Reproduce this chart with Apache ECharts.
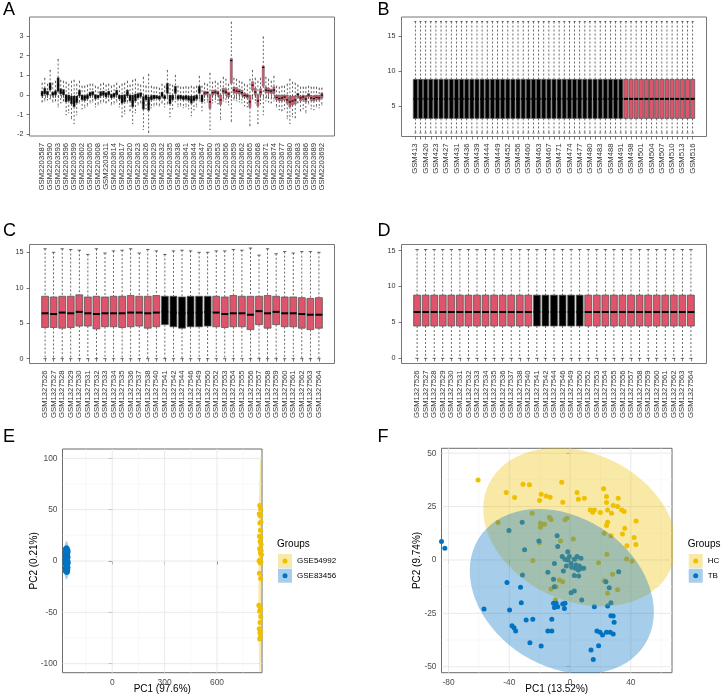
<!DOCTYPE html>
<html>
<head>
<meta charset="utf-8">
<title>Normalisation boxplots and PCA</title>
<script src="https://cdn.jsdelivr.net/npm/echarts@6/dist/echarts.min.js"></script>
<style>
  html, body { margin: 0; padding: 0; background: #fff; }
  #main { width: 722px; height: 700px; }
</style>
</head>
<body>
<div id="main"></div>
<script>
(function () {
    'use strict';

    // ---------- panel A : GSE83456 (GSM2203xxx) ----------
    var aSampleIds = [587,588,589,590,591,592,593,594,595,596,597,598,599,600,601,602,603,604,605,606,
        607,608,609,610,611,612,613,614,615,616,617,618,619,620,621,622,623,624,625,626,
        627,628,629,630,631,632,633,634,635,636,637,638,639,640,641,642,643,644,645,646,
        647,648,649,650,651,652,653,654,655,656,657,658,659,660,661,662,663,664,665,666,
        667,668,669,670,671,672,673,674,675,676,677,678,679,680,681,682,683,684,685,686,
        687,688,689,690,691,692];
    var aGroupRuns = [[1, 61], [2, 45]];
    var aLow = [-0.35,-0.30,-0.25,-0.20,-0.35,-0.30,-0.60,-0.40,-0.30,-1.00,
        -0.90,-1.20,-1.45,-1.00,-0.40,-0.70,-0.65,-0.55,-0.40,-0.35,
        -0.60,-0.50,-0.40,-0.35,-0.40,-0.30,-0.50,-0.45,-0.35,-0.60,
        -1.10,-0.95,-0.40,-0.80,-1.45,-0.90,-0.50,-0.40,-1.75,-0.70,
        -1.90,-0.65,-0.55,-0.50,-0.55,-0.40,-0.60,-0.45,-1.10,-0.70,
        -0.35,-0.60,-0.55,-0.65,-0.60,-0.70,-1.05,-0.75,-0.60,-0.30,
        -0.80,
        -0.40,-0.35,-1.75,-0.40,-0.35,-0.45,-1.25,-0.30,-0.35,-0.50,
        -1.35,-0.25,-0.30,-0.35,-0.40,-0.55,-0.60,-1.55,-0.20,-0.40,
        -1.45,-0.45,-1.00,-0.30,-0.35,-0.40,-0.30,-0.60,-0.75,-0.80,
        -0.70,-1.20,-1.45,-1.10,-1.15,-0.40,-0.80,-0.70,-0.90,-0.45,
        -0.70,-0.75,-0.60,-0.65,-0.50];
    var aQ1 = [-0.05,0.05,0.00,0.25,-0.02,0.00,0.18,0.05,0.00,-0.35,
        -0.30,-0.45,-0.60,-0.40,-0.05,-0.25,-0.28,-0.20,-0.05,0.00,
        -0.20,-0.15,-0.05,-0.02,-0.10,0.00,-0.15,-0.10,0.00,-0.20,
        -0.42,-0.35,-0.05,-0.30,-0.60,-0.30,-0.15,-0.08,-0.72,-0.25,
        -0.78,-0.25,-0.20,-0.18,-0.22,-0.08,-0.20,0.08,-0.45,-0.25,
        0.08,-0.22,-0.20,-0.25,-0.22,-0.28,-0.42,-0.30,-0.22,0.08,
        -0.35,
        0.00,0.02,-0.68,0.00,0.05,0.00,-0.48,0.08,0.05,-0.10,
        0.60,0.10,0.08,0.05,0.02,-0.10,-0.15,-0.63,0.25,0.00,
        -0.56,0.00,0.45,0.12,0.10,0.08,0.08,-0.25,-0.30,-0.30,
        -0.25,-0.42,-0.60,-0.50,-0.45,-0.10,-0.30,-0.25,-0.35,-0.10,
        -0.28,-0.30,-0.25,-0.25,-0.15];
    var aMed = [0.08,0.15,0.10,0.40,0.06,0.10,0.50,0.15,0.12,-0.10,
        -0.15,-0.20,-0.35,-0.25,0.10,-0.15,-0.12,-0.10,0.05,0.10,
        -0.05,-0.08,0.05,0.08,0.05,0.10,-0.05,0.00,0.10,-0.10,
        -0.25,-0.15,0.10,-0.15,-0.35,-0.10,-0.05,0.05,-0.40,-0.10,
        -0.45,-0.15,-0.10,-0.12,-0.15,0.02,-0.12,0.35,-0.25,-0.12,
        0.25,-0.12,-0.10,-0.15,-0.12,-0.18,-0.25,-0.20,-0.12,0.25,
        -0.20,
        0.10,0.12,-0.35,0.12,0.15,0.10,-0.25,0.20,0.15,0.05,
        1.75,0.25,0.20,0.18,0.12,-0.02,-0.05,-0.35,0.50,0.15,
        -0.30,0.15,1.40,0.25,0.22,0.20,0.25,-0.12,-0.18,-0.15,
        -0.10,-0.25,-0.35,-0.30,-0.25,0.02,-0.15,-0.10,-0.20,0.00,
        -0.15,-0.18,-0.12,-0.15,0.00];
    var aQ3 = [0.20,0.35,0.20,0.62,0.15,0.22,0.88,0.32,0.28,0.02,
        0.00,-0.05,-0.05,-0.05,0.25,0.00,-0.02,0.02,0.15,0.18,
        0.02,0.00,0.18,0.20,0.12,0.20,0.05,0.10,0.25,0.00,
        0.00,0.02,0.25,0.00,0.00,0.05,0.08,0.12,-0.08,0.00,
        -0.10,-0.02,0.00,-0.02,-0.05,0.15,-0.02,0.60,0.00,0.00,
        0.45,-0.02,0.00,-0.05,-0.02,-0.05,-0.05,-0.05,0.00,0.45,
        0.00,
        0.20,0.18,0.00,0.25,0.25,0.20,0.00,0.35,0.30,0.15,
        1.86,0.40,0.38,0.30,0.25,0.10,0.05,0.00,0.68,0.34,
        0.00,0.32,1.47,0.40,0.35,0.30,0.42,0.00,0.00,-0.02,
        0.00,0.00,-0.10,-0.05,-0.05,0.10,-0.05,0.00,-0.05,0.08,
        -0.02,-0.05,0.00,-0.02,0.10];
    var aHigh = [0.60,0.85,0.55,1.25,0.60,0.70,1.80,0.75,0.70,0.65,
        0.55,0.70,0.75,0.55,0.70,0.45,0.45,0.50,0.55,0.55,
        0.45,0.40,0.55,0.60,0.50,0.55,0.45,0.50,0.60,0.45,
        0.55,0.60,0.70,0.50,0.75,0.80,0.55,0.50,0.90,0.45,
        1.05,0.45,0.40,0.40,0.35,0.55,0.45,1.25,0.55,0.50,
        1.00,0.45,0.40,0.40,0.42,0.40,0.45,0.40,0.45,0.95,
        0.45,
        0.60,0.55,1.10,0.65,0.70,0.60,0.70,0.90,0.80,0.55,
        3.70,0.85,0.80,0.70,0.65,0.55,0.50,0.80,1.25,0.85,
        0.70,0.85,2.95,0.90,0.80,0.70,0.95,0.45,0.40,0.45,
        0.45,0.55,0.80,0.65,0.60,0.50,0.40,0.40,0.40,0.45,
        0.40,0.40,0.40,0.35,0.35];

    // ---------- panel B : GSM709xxx ----------
    var bSampleIds = [413,416,420,421,423,425,427,429,431,434,436,437,439,442,444,446,449,450,452,454,
        456,458,460,461,463,465,467,469,471,472,474,475,477,478,480,481,483,485,488,489,
        491,495,498,499,501,502,504,505,507,508,510,511,513,514,516];
    var bGroupRuns = [[1, 41], [2, 14]];
    var bLow = [1.1,1.1,1.1,1.1,1.1,1.1,1.1,1.1,1.1,1.1,1.1,1.1,1.1,1.1,1.1,1.1,1.1,1.1,1.1,1.1,
        1.1,1.1,1.1,1.1,1.1,1.1,1.1,1.1,1.1,1.1,1.1,1.1,1.1,1.1,1.1,1.1,1.1,1.1,1.1,1.1,
        1.1,1.1,1.1,1.1,1.1,1.1,1.1,1.1,1.1,1.1,1.1,1.1,1.1,1.1,1.1];
    var bQ1 = [3.2,3.2,3.2,3.2,3.2,3.2,3.2,3.2,3.2,3.2,3.2,3.2,3.2,3.2,3.2,3.2,3.2,3.2,3.2,3.2,
        3.2,3.2,3.2,3.2,3.2,3.2,3.2,3.2,3.2,3.2,3.2,3.2,3.2,3.2,3.2,3.2,3.2,3.2,3.2,3.2,
        3.2,3.2,3.2,3.2,3.2,3.2,3.2,3.2,3.2,3.2,3.2,3.2,3.2,3.2,3.2];
    var bMed = [6,6,6,6,6,6,6,6,6,6,6,6,6,6,6,6,6,6,6,6,
        6,6,6,6,6,6,6,6,6,6,6,6,6,6,6,6,6,6,6,6,
        6,6,6,6,6,6,6,6,6,6,6,6,6,6,6];
    var bQ3 = [8.8,8.8,8.8,8.8,8.8,8.8,8.8,8.8,8.8,8.8,8.8,8.8,8.8,8.8,8.8,8.8,8.8,8.8,8.8,8.8,
        8.8,8.8,8.8,8.8,8.8,8.8,8.8,8.8,8.8,8.8,8.8,8.8,8.8,8.8,8.8,8.8,8.8,8.8,8.8,8.8,
        8.8,8.8,8.8,8.8,8.8,8.8,8.8,8.8,8.8,8.8,8.8,8.8,8.8,8.8,8.8];
    var bHigh = [17.1,17.1,17.1,17.1,17.1,17.1,17.1,17.1,17.1,17.1,17.1,17.1,17.1,17.1,17.1,17.1,17.1,17.1,17.1,17.1,
        17.1,17.1,17.1,17.1,17.1,17.1,17.1,17.1,17.1,17.1,17.1,17.1,17.1,17.1,17.1,17.1,17.1,17.1,17.1,17.1,
        17.1,17.1,17.1,17.1,17.1,17.1,17.1,17.1,17.1,17.1,17.1,17.1,17.1,17.1,17.1];

    // ---------- panels C / D : GSE54992 (GSM1327xxx), before and after ----------
    var cdSampleIds = [526,527,528,529,530,531,532,533,534,535,536,537,538,540,541,542,544,
        546,549,550,552,553,554,555,556,557,558,559,560,561,562,563,564];
    var cdGroupRuns = [[2, 14], [1, 6], [2, 13]];
    var cLow = [0,0,0,0,0,0,0,0,0,0,0,0,0,0,0,0,0,0,0,0,0,0,0,0,0,0,0,0,0,0,0,0,0];
    var cQ1 = [4.4,4.4,4.3,4.4,4.6,4.6,4.2,4.5,4.5,4.4,4.5,4.6,4.3,4.5,
        4.8,4.5,4.3,4.5,4.5,4.6,
        4.5,4.4,4.5,4.5,4.1,4.8,4.3,4.8,4.5,4.5,4.3,4.1,4.3];
    var cMed = [6.4,6.3,6.5,6.4,6.6,6.4,6.3,6.4,6.4,6.4,6.5,6.5,6.4,6.5,
        6.6,6.5,6.4,6.5,6.5,6.6,
        6.5,6.3,6.4,6.4,6.2,6.7,6.4,6.6,6.4,6.4,6.3,6.2,6.2];
    var cQ3 = [8.8,8.7,8.8,8.8,9.0,8.7,8.8,8.7,8.8,8.8,8.9,8.8,8.8,8.9,
        8.8,8.8,8.7,8.8,8.8,8.8,
        8.8,8.7,8.9,8.8,8.8,8.8,8.9,8.8,8.7,8.7,8.6,8.5,8.6];
    var cHigh = [15.5,15.0,15.5,15.4,15.3,14.7,15.5,14.9,15.2,15.3,15.5,14.9,15.4,15.2,
        14.7,15.2,15.3,15.2,15.0,15.0,
        15.2,15.2,15.4,15.3,15.6,14.6,15.5,14.8,15.1,14.9,15.1,15.1,15.0];
    var dLow = [0,0,0,0,0,0,0,0,0,0,0,0,0,0,0,0,0,0,0,0,0,0,0,0,0,0,0,0,0,0,0,0,0];
    var dQ1 = [4.5,4.5,4.5,4.5,4.5,4.5,4.5,4.5,4.5,4.5,4.5,4.5,4.5,4.5,4.5,4.5,4.5,
        4.5,4.5,4.5,4.5,4.5,4.5,4.5,4.5,4.5,4.5,4.5,4.5,4.5,4.5,4.5,4.5];
    var dMed = [6.45,6.45,6.45,6.45,6.45,6.45,6.45,6.45,6.45,6.45,6.45,6.45,6.45,6.45,6.45,6.45,6.45,
        6.45,6.45,6.45,6.45,6.45,6.45,6.45,6.45,6.45,6.45,6.45,6.45,6.45,6.45,6.45,6.45];
    var dQ3 = [8.8,8.8,8.8,8.8,8.8,8.8,8.8,8.8,8.8,8.8,8.8,8.8,8.8,8.8,8.8,8.8,8.8,
        8.8,8.8,8.8,8.8,8.8,8.8,8.8,8.8,8.8,8.8,8.8,8.8,8.8,8.8,8.8,8.8];
    var dHigh = [15.15,15.15,15.15,15.15,15.15,15.15,15.15,15.15,15.15,15.15,15.15,15.15,15.15,15.15,15.15,15.15,15.15,
        15.15,15.15,15.15,15.15,15.15,15.15,15.15,15.15,15.15,15.15,15.15,15.15,15.15,15.15,15.15,15.15];

    // ---------- panel E : PCA by data set ----------
    var eGse54992 = [[845,54],[850,51],[842,46],[848,44],[852,38],[846,37],[849,30],[843,24],[851,23],
        [847,19],[853,16],[844,12],[849,8],[855,6],[846,1],[852,-1],[848,-2],[843,-12],[850,-17],
        [840,-43],[846,-44],[849,-47],[844,-49],[851,-54],[847,-60],[842,-66],[850,-68],[846,-70],
        [848,-74],[845,-76],[853,10],[841,0],[849,44]];
    var eGse83456 = [[-268,12],[-262,13],[-257,12],[-271,9],[-265,9],[-259,10],[-254,8],[-270,5],
        [-264,4],[-258,6],[-253,4],[-272,1],[-266,0],[-260,2],[-254,0],[-269,-3],[-263,-2],[-257,-4],
        [-252,-2],[-271,-7],[-265,-6],[-259,-8],[-254,-6],[-268,-10],[-262,-11],[-256,-10],[-267,7],
        [-261,-1],[-255,-8],[-270,-1],[-263,11],[-258,2],[-266,-9],[-253,10],[-260,7],[-264,-4],
        [-269,3],[-256,5],[-262,-6],[-258,-11]];

    // ---------- panel F : PCA by disease group ----------
    var fHC = [[-60.5,37.5],[-42,31.6],[-36.5,29.2],[-31,35.5],[-26.7,35.2],[-20.1,27.8],[-19,30.8],
        [-15.7,30],[-13.1,29.4],[-5.5,36.4],[-4.8,27],[4.6,31.6],[5.5,28.4],[9.4,28.9],[13.3,23.4],
        [14.9,22.3],[16,23.4],[19.9,22.2],[22.1,33.3],[24,29.7],[24,26.9],[24.7,23.4],[24.7,17.7],
        [24,16.1],[27.3,21.9],[28.4,25.5],[31.7,28.9],[31.3,25],[34,23.4],[35.6,22.7],[36,14.8],
        [34.5,12.2],[43.5,18.3],[42.2,10.5],[43.3,7.3],[37.4,6.7],[27,11.3],[22.5,12.5],[37.2,0.5],
        [40.7,-0.5],[24.3,2.7],[18.8,-1.3],[28,-6.7],[22.5,-9.7],[31.3,-14],[24.7,-15.6],[-47.4,17.5],
        [-24.9,21.9],[-16.8,16.7],[-19.5,17.2],[-19.5,15.3],[-13.6,20],[-12.5,19],[-3.3,18.8],
        [-2,19.5],[2.2,9.8],[-20.1,8.1],[-24.5,-0.3],[-12.5,-13.6],[-9.2,-12.5],[-9.6,-18.8],
        [-4.8,-10.2],[-7,-9.4],[3.9,0.5],[-6.3,8.9]];
    var fTB = [[-84.6,8.6],[-82.4,5.5],[-56.6,-23],[-41.5,-10.5],[-39.8,-23.4],[-40.2,13.8],
        [-38.2,-30.8],[-36.9,-31.7],[-35.8,-33.3],[-32.6,-12.8],[-32.1,-20],[-31.5,17.7],[-31.3,-7],
        [-29.9,4.8],[-28.9,-28.1],[-26.4,-38.8],[-24.5,-27.8],[-20.5,8.9],[-19,-40.3],[-14.6,-33.3],
        [-12,-33.3],[-12,-27.8],[-10.9,-20.3],[-10.3,-22.3],[-10.3,-1.6],[-10.9,-9],[-10.3,-12.5],
        [-8.5,11.3],[-8.1,6.3],[-14.6,-5.8],[-9.2,-20.3],[-4.8,-20.6],[-3.7,-22.7],[-3.3,-20.3],
        [-4.4,-5.2],[-5.2,1.6],[-3.3,0.3],[-1.5,0],[-1.5,3.9],[-0.4,1.6],[0.7,-1.6],[1.1,-3.4],
        [2.8,0.3],[3.5,-3.9],[3.9,-2.3],[4.6,1.6],[5.5,-4.7],[6.1,-2.8],[5.7,-7.5],[7.2,0.8],
        [7.7,-3.9],[9,-3.9],[2.8,-7.3],[0.7,-15.3],[2.8,-14.5],[7.7,-18.8],[-2.4,-2.8],[16,-21.9],
        [24.7,-21.6],[26.9,-20],[23.6,-10.2],[25.8,-13],[32,-5.5],[26.9,-26.1],[28.4,-26.3],
        [29,-29.2],[17.7,-33.3],[19.7,-33.9],[21.4,-35.2],[24,-33.9],[26.4,-33.9],[28.4,-34.7],
        [18.8,-40.2],[13.8,-42.2],[15.3,-46.6],[-8.1,-21.9]];

    // ---------- tick labels ----------
    var aTicks = [-2, -1, 0, 1, 2, 3];
    var bTicks = [5, 10, 15];
    var cdTicks = [0, 5, 10, 15];
    var eXMajor = [0, 300, 600], eXMinor = [-150, 150, 450, 750];
    var eYMajor = [-100, -50, 0, 50, 100], eYMinor = [-75, -25, 25, 75];
    var fXMajor = [-80, -40, 0, 40], fXMinor = [-60, -20, 20, 60];
    var fYMajor = [-50, -25, 0, 25, 50], fYMinor = [-37.5, -12.5, 12.5, 37.5];

    var RED = '#DF536B';
    var BLACK = '#000000';
    var YELLOW = '#EFC000';
    var BLUE = '#0073C2';
    var FONT = '"Liberation Sans", Arial, Helvetica, sans-serif';

    var grids = [], xAxes = [], yAxes = [], series = [];

    function expandRuns(runs) {
        var out = [];
        runs.forEach(function (r) {
            for (var k = 0; k < r[1]; k++) {
                out.push(r[0]);
            }
        });
        return out;
    }

    function boxRows(low, q1, med, q3, high, groups) {
        return low.map(function (v, i) {
            return [i, v, q1[i], med[i], q3[i], high[i], groups[i]];
        });
    }

    // base-R like boxplot: dashed whiskers, staples, filled box, thick median
    function renderBox(params, api) {
        var i = api.value(0);
        var pLo = api.coord([i, api.value(1)]);
        var pQ1 = api.coord([i, api.value(2)]);
        var pMd = api.coord([i, api.value(3)]);
        var pQ3 = api.coord([i, api.value(4)]);
        var pHi = api.coord([i, api.value(5)]);
        var band = api.size([1, 0])[0];
        var bw = band * 0.8, sw = bw * 0.5, x = pMd[0];
        var fill = api.value(6) === 2 ? RED : BLACK;
        var edge = Math.min(0.8, band * 0.18);
        var medW = Math.min(2, band * 0.45);
        return {
            type: 'group',
            children: [
                {type: 'line', shape: {x1: x, y1: pHi[1], x2: x, y2: pQ3[1]},
                    style: {stroke: '#444', lineWidth: 0.8, lineDash: [2, 2]}},
                {type: 'line', shape: {x1: x, y1: pQ1[1], x2: x, y2: pLo[1]},
                    style: {stroke: '#444', lineWidth: 0.8, lineDash: [2, 2]}},
                {type: 'line', shape: {x1: x - sw / 2, y1: pHi[1], x2: x + sw / 2, y2: pHi[1]},
                    style: {stroke: '#444', lineWidth: 0.8}},
                {type: 'line', shape: {x1: x - sw / 2, y1: pLo[1], x2: x + sw / 2, y2: pLo[1]},
                    style: {stroke: '#444', lineWidth: 0.8}},
                {type: 'rect', shape: {x: x - bw / 2, y: pQ3[1], width: bw, height: pQ1[1] - pQ3[1]},
                    style: {fill: fill, stroke: '#555', lineWidth: edge}},
                {type: 'line', shape: {x1: x - bw / 2, y1: pMd[1], x2: x + bw / 2, y2: pMd[1]},
                    style: {stroke: '#000', lineWidth: medW}}
            ]
        };
    }

    // one R boxplot panel = a frame grid (box + y axis) and an inner data grid
    function addBoxPanel(frame, yMin, yMax, yTicks, prefix, ids, rows, labelStep) {
        var inset = frame.width * 0.04 / 1.08;
        var fi = grids.length, di = fi + 1;
        grids.push({left: frame.left, top: frame.top, width: frame.width, height: frame.height,
            show: true, borderColor: '#777', borderWidth: 1, backgroundColor: 'transparent',
            outerBoundsMode: 'none'});
        grids.push({left: frame.left + inset, top: frame.top, width: frame.width - 2 * inset,
            height: frame.height, show: false, outerBoundsMode: 'none'});
        xAxes.push({gridIndex: fi, type: 'value', show: false, min: 0, max: 1});
        xAxes.push({
            gridIndex: di, type: 'category', boundaryGap: true,
            data: ids.map(function (n) { return prefix + n; }),
            axisLine: {show: false},
            axisTick: {show: true, alignWithLabel: true, interval: 0, length: 3,
                lineStyle: {color: '#555', width: 0.8}},
            axisLabel: {interval: labelStep - 1, rotate: 90, fontSize: 7.7, margin: 7,
                color: '#333', fontFamily: FONT},
            splitLine: {show: false}
        });
        yAxes.push({
            gridIndex: fi, type: 'value', min: yMin, max: yMax,
            axisLine: {show: false},
            axisTick: {show: true, length: 3, customValues: yTicks, lineStyle: {color: '#555', width: 0.8}},
            axisLabel: {customValues: yTicks, fontSize: 7.2, margin: 6, color: '#333', fontFamily: FONT},
            splitLine: {show: false}
        });
        yAxes.push({gridIndex: di, type: 'value', min: yMin, max: yMax, show: false});
        series.push({
            type: 'custom', xAxisIndex: di, yAxisIndex: di, silent: true,
            data: rows, encode: {x: 0, y: [1, 5]},
            renderItem: renderBox
        });
    }

    addBoxPanel({left: 29.5, top: 17, width: 305, height: 119}, -2.08, 3.96, aTicks,
        'GSM2203', aSampleIds, boxRows(aLow, aQ1, aMed, aQ3, aHigh, expandRuns(aGroupRuns)), 3);
    addBoxPanel({left: 401.5, top: 17, width: 305, height: 119.5}, 0.6, 17.75, bTicks,
        'GSM', bSampleIds, boxRows(bLow, bQ1, bMed, bQ3, bHigh, expandRuns(bGroupRuns)), 2);
    addBoxPanel({left: 29.5, top: 244.5, width: 305, height: 119}, -0.68, 16.1, cdTicks,
        'GSM1327', cdSampleIds, boxRows(cLow, cQ1, cMed, cQ3, cHigh, expandRuns(cdGroupRuns)), 1);
    addBoxPanel({left: 401.5, top: 244.5, width: 305, height: 119}, -0.72, 15.85, cdTicks,
        'GSM1327', cdSampleIds, boxRows(dLow, dQ1, dMed, dQ3, dHigh, expandRuns(cdGroupRuns)), 1);

    // ---------- ggplot-like PCA panels ----------
    // 95% ellipse as stat_ellipse does it: centre + radius * circle %*% chol(cov)
    function ellipsePath(pts) {
        var n = pts.length, mx = 0, my = 0;
        pts.forEach(function (p) { mx += p[0]; my += p[1]; });
        mx /= n; my /= n;
        var sxx = 0, syy = 0, sxy = 0;
        pts.forEach(function (p) {
            var dx = p[0] - mx, dy = p[1] - my;
            sxx += dx * dx; syy += dy * dy; sxy += dx * dy;
        });
        sxx /= (n - 1); syy /= (n - 1); sxy /= (n - 1);
        var d2 = n - 1;
        var fq = d2 / 2 * (Math.pow(0.05, -2 / d2) - 1);   // qf(0.95, 2, n-1)
        var r = Math.sqrt(2 * fq);
        var a = Math.sqrt(sxx), b = sxy / a, c = Math.sqrt(Math.max(syy - b * b, 0));
        var out = [];
        for (var k = 0; k < 72; k++) {
            var t = 2 * Math.PI * k / 72, ux = Math.cos(t), uy = Math.sin(t);
            out.push([mx + r * ux * a, my + r * (ux * b + uy * c)]);
        }
        return out;
    }

    function gridLines(gi, dir, values, color, width) {
        return {
            type: 'custom', xAxisIndex: gi, yAxisIndex: gi, z: 1, silent: true,
            data: values.map(function (v) { return dir === 'x' ? [v, 0] : [0, v]; }),
            renderItem: function (params, api) {
                var cs = params.coordSys;
                if (dir === 'x') {
                    var x = api.coord([api.value(0), 0])[0];
                    return {type: 'line', shape: {x1: x, y1: cs.y, x2: x, y2: cs.y + cs.height},
                        style: {stroke: color, lineWidth: width}};
                }
                var y = api.coord([0, api.value(1)])[1];
                return {type: 'line', shape: {x1: cs.x, y1: y, x2: cs.x + cs.width, y2: y},
                    style: {stroke: color, lineWidth: width}};
            }
        };
    }

    function ellipseSeries(gi, pts, rgba, z) {
        var poly = ellipsePath(pts);
        return {
            type: 'custom', xAxisIndex: gi, yAxisIndex: gi, z: z, silent: true, clip: true,
            data: [pts[0]],
            renderItem: function (params, api) {
                return {type: 'polygon',
                    shape: {points: poly.map(function (p) { return api.coord(p); })},
                    style: {fill: rgba}};
            }
        };
    }

    function addPcaPanel(box, xr, yr, xMajor, xMinor, yMajor, yMinor, xName, yName, yGap, groups) {
        var gi = grids.length;
        grids.push({left: box.left, top: box.top, width: box.width, height: box.height,
            show: true, borderColor: '#6b6b6b', borderWidth: 1, backgroundColor: '#fff',
            outerBoundsMode: 'none'});
        xAxes.push({
            gridIndex: gi, type: 'value', min: xr[0], max: xr[1],
            axisLine: {show: false},
            axisTick: {show: true, length: 3.5, customValues: xMajor, lineStyle: {color: '#333', width: 0.8}},
            axisLabel: {customValues: xMajor, fontSize: 8.4, margin: 5.5, color: '#4d4d4d', fontFamily: FONT},
            splitLine: {show: false},
            name: xName, nameLocation: 'middle', nameGap: 12, nameMoveOverlap: false,
            nameTextStyle: {fontSize: 10, color: '#000', fontFamily: FONT}
        });
        yAxes.push({
            gridIndex: gi, type: 'value', min: yr[0], max: yr[1],
            axisLine: {show: false},
            axisTick: {show: true, length: 3.5, customValues: yMajor, lineStyle: {color: '#333', width: 0.8}},
            axisLabel: {customValues: yMajor, fontSize: 8.4, margin: 5, color: '#4d4d4d', fontFamily: FONT},
            splitLine: {show: false},
            name: yName, nameLocation: 'middle', nameGap: yGap, nameMoveOverlap: false,
            nameTextStyle: {fontSize: 10, color: '#000', fontFamily: FONT}
        });
        series.push(gridLines(gi, 'x', xMinor, '#f3f3f3', 0.6));
        series.push(gridLines(gi, 'y', yMinor, '#f3f3f3', 0.6));
        series.push(gridLines(gi, 'x', xMajor, '#e6e6e6', 0.9));
        series.push(gridLines(gi, 'y', yMajor, '#e6e6e6', 0.9));
        groups.forEach(function (g) {
            series.push({type: 'scatter', xAxisIndex: gi, yAxisIndex: gi, z: 2, silent: true,
                symbol: 'circle', symbolSize: 5, data: g.pts,
                itemStyle: {color: g.color, opacity: 1}});
        });
        groups.forEach(function (g, k) {
            series.push(ellipseSeries(gi, g.pts, g.fill, 3 + k));
        });
    }

    addPcaPanel({left: 62.5, top: 449, width: 199.5, height: 223.7}, [-285, 858], [-108.8, 109.1],
        eXMajor, eXMinor, eYMajor, eYMinor, 'PC1 (97.6%)', 'PC2 (0.21%)', 23,
        [{pts: eGse54992, color: YELLOW, fill: 'rgba(239,192,0,0.35)'},
         {pts: eGse83456, color: BLUE, fill: 'rgba(0,115,194,0.35)'}]);
    addPcaPanel({left: 441.5, top: 448.3, width: 230.5, height: 224.4}, [-84.6, 67.1], [-52.8, 52.3],
        fXMajor, fXMinor, fYMajor, fYMinor, 'PC1 (13.52%)', 'PC2 (9.74%)', 19,
        [{pts: fHC, color: YELLOW, fill: 'rgba(239,192,0,0.35)'},
         {pts: fTB, color: BLUE, fill: 'rgba(0,115,194,0.35)'}]);

    // ---------- panel letters and legends ----------
    function txt(x, y, s, size, color) {
        return {type: 'text', x: x, y: y, silent: true,
            style: {text: s, fontSize: size, fontFamily: FONT, fill: color || '#000', verticalAlign: 'middle'}};
    }

    function legend(x, y, labels) {
        var els = [txt(x, y, 'Groups', 10)];
        var cols = [[YELLOW, 'rgba(239,192,0,0.35)'], [BLUE, 'rgba(0,115,194,0.35)']];
        labels.forEach(function (lab, k) {
            var top = y + 10 + k * 14.7;
            els.push({type: 'rect', silent: true, shape: {x: x + 1, y: top, width: 14, height: 14},
                style: {fill: cols[k][1]}});
            els.push({type: 'circle', silent: true, shape: {cx: x + 8, cy: top + 7, r: 2.5},
                style: {fill: cols[k][0]}});
            els.push(txt(x + 20, top + 7, lab, 8));
        });
        return els;
    }

    var graphics = [
        txt(3, 10.5, 'A', 18), txt(377.5, 10.5, 'B', 18),
        txt(3, 231.5, 'C', 18), txt(377.5, 231.5, 'D', 18),
        txt(3, 437.5, 'E', 18), txt(377.5, 437.5, 'F', 18)
    ].concat(legend(277, 544, ['GSE54992', 'GSE83456']))
     .concat(legend(687.7, 544, ['HC', 'TB']));

    var chart = echarts.init(document.getElementById('main'), null, {renderer: 'canvas'});
    chart.setOption({
        animation: false,
        backgroundColor: '#fff',
        textStyle: {fontFamily: FONT},
        grid: grids,
        xAxis: xAxes,
        yAxis: yAxes,
        series: series,
        graphic: graphics
    });
})();
</script>
</body>
</html>
